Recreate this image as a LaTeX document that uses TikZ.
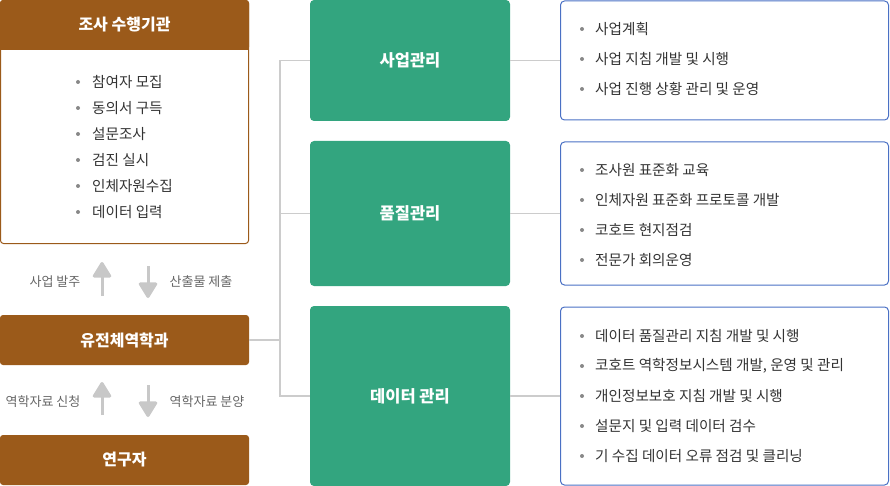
\documentclass[tikz,border=0pt]{standalone}
\usepackage{fontspec}
\setmainfont{Noto Sans CJK KR}
\usetikzlibrary{arrows.meta,positioning,calc,backgrounds}
\definecolor{kBrown}{HTML}{9B5A1A}
\definecolor{kGreen}{HTML}{33A57F}
\definecolor{kBlue}{HTML}{4A70C4}
\definecolor{kLine}{HTML}{CCCCCC}
\definecolor{kArrow}{HTML}{C8C8C8}
\definecolor{kText}{HTML}{333333}
\definecolor{kNote}{HTML}{666666}
\definecolor{kDot}{HTML}{888888}

\begin{document}
\begin{tikzpicture}[
			x=1pt,y=-1pt,
			headbox/.style={
				fill=kBrown,
				text=white,
				rounded corners=3pt,
				minimum width=249pt,
				minimum height=50pt,
				inner sep=0pt,
				font=\fontsize{16}{19}\selectfont\bfseries
			},
			task/.style={
				fill=kGreen,
				text=white,
				rounded corners=4pt,
				minimum width=200pt,
				inner sep=0pt,
				font=\fontsize{16.5}{19}\selectfont\bfseries
			},
			duty/.style={
				draw=kBlue,
				line width=1pt,
				rounded corners=4pt,
				minimum width=328pt
			},
			item/.style={anchor=west,inner sep=0pt,text=kText,font=\fontsize{14.6}{17}\selectfont},
			note/.style={inner sep=0pt,text=kNote,font=\fontsize{13}{15}\selectfont},
			link/.style={draw=kLine,line width=1.5pt},
			flow/.style={draw=kArrow,line width=3pt,-{Triangle[width=20pt,length=17pt,round]}}
			]
			\useasboundingbox (0,0) rectangle (890,486);
			% left column
			\node[draw=kBrown,line width=1pt,rounded corners=3pt,minimum width=248pt,minimum height=243pt](org) at (124.5,122){};
			\node[headbox](orghead) at (124.5,25){조사 수행기관};
			\begin{scope}[on background layer]
				\fill[kBrown](orghead.west) rectangle (orghead.south east);
			\end{scope}
			\foreach \txt [count=\i] in {참여자 모집,동의서 구득,설문조사,검진 실시,인체자원수집,데이터 입력}{
				\node[item](org-\i) at (92,{82+26*(\i-1)}){\txt};
				\fill[kDot]($(org-\i.west)+(-14,0)$) circle (2pt);
			}
			\node[headbox](dept) at (124.5,340){유전체역학과};
			\node[headbox](res) at (124.5,460){연구자};
			% arrows between the brown boxes
			\coordinate (orderA) at (102,296);
			\coordinate (orderB) at (102,262);
			\coordinate (sendA) at (148,266);
			\coordinate (sendB) at (148,298);
			\coordinate (askA) at (102,415);
			\coordinate (askB) at (102,382);
			\coordinate (giveA) at (148,385);
			\coordinate (giveB) at (148,417);
			\draw[flow](orderA)--(orderB);
			\draw[flow](sendA)--(sendB);
			\draw[flow](askA)--(askB);
			\draw[flow](giveA)--(giveB);
			\node[note](order) at (55,282){사업 발주};
			\node[note](send) at (201,282){산출물 제출};
			\node[note](ask) at (43,402){역학자료 신청};
			\node[note](give) at (207,402){역학자료 분양};
			% middle column
			\node[task,minimum height=121pt](biz) at (410,60.5){사업관리};
			\node[task,minimum height=145pt](qual) at (410,213.5){품질관리};
			\node[task,minimum height=180pt](data) at (410,396){데이터 관리};
			\coordinate (trunk) at (280,340);
			\draw[link](dept.east)--(trunk);
			\draw[link](trunk)|-(biz.west);
			\draw[link](trunk)|-(qual.west);
			\draw[link](trunk)|-(data.west);
			% right column
			\node[duty,minimum height=119pt](plan) at (724.5,60.5){};
			\node[duty,minimum height=143pt](check) at (724.5,213.5){};
			\node[duty,minimum height=178pt](manage) at (724.5,396){};
			\draw[link](biz.east)--(plan.west);
			\draw[link](qual.east)--(check.west);
			\draw[link](data.east)--(manage.west);
			\foreach \txt [count=\i] in {사업계획,사업 지침 개발 및 시행,사업 진행 상황 관리 및 운영}{
				\node[item](plan-\i) at (595,{29+30*(\i-1)}){\txt};
				\fill[kDot]($(plan-\i.west)+(-13,0)$) circle (2pt);
			}
			\foreach \txt [count=\i] in {조사원 표준화 교육,인체자원 표준화 프로토콜 개발,코호트 현지점검,전문가 회의운영}{
				\node[item](check-\i) at (595,{170+30*(\i-1)}){\txt};
				\fill[kDot]($(check-\i.west)+(-13,0)$) circle (2pt);
			}
			\foreach \txt [count=\i] in {데이터 품질관리 지침 개발 및 시행,{코호트 역학정보시스템 개발, 운영 및 관리},개인정보보호 지침 개발 및 시행,설문지 및 입력 데이터 검수,기 수집 데이터 오류 점검 및 클리닝}{
				\node[item](manage-\i) at (595,{336+30*(\i-1)}){\txt};
				\fill[kDot]($(manage-\i.west)+(-13,0)$) circle (2pt);
			}
		\end{tikzpicture}
\end{document}
